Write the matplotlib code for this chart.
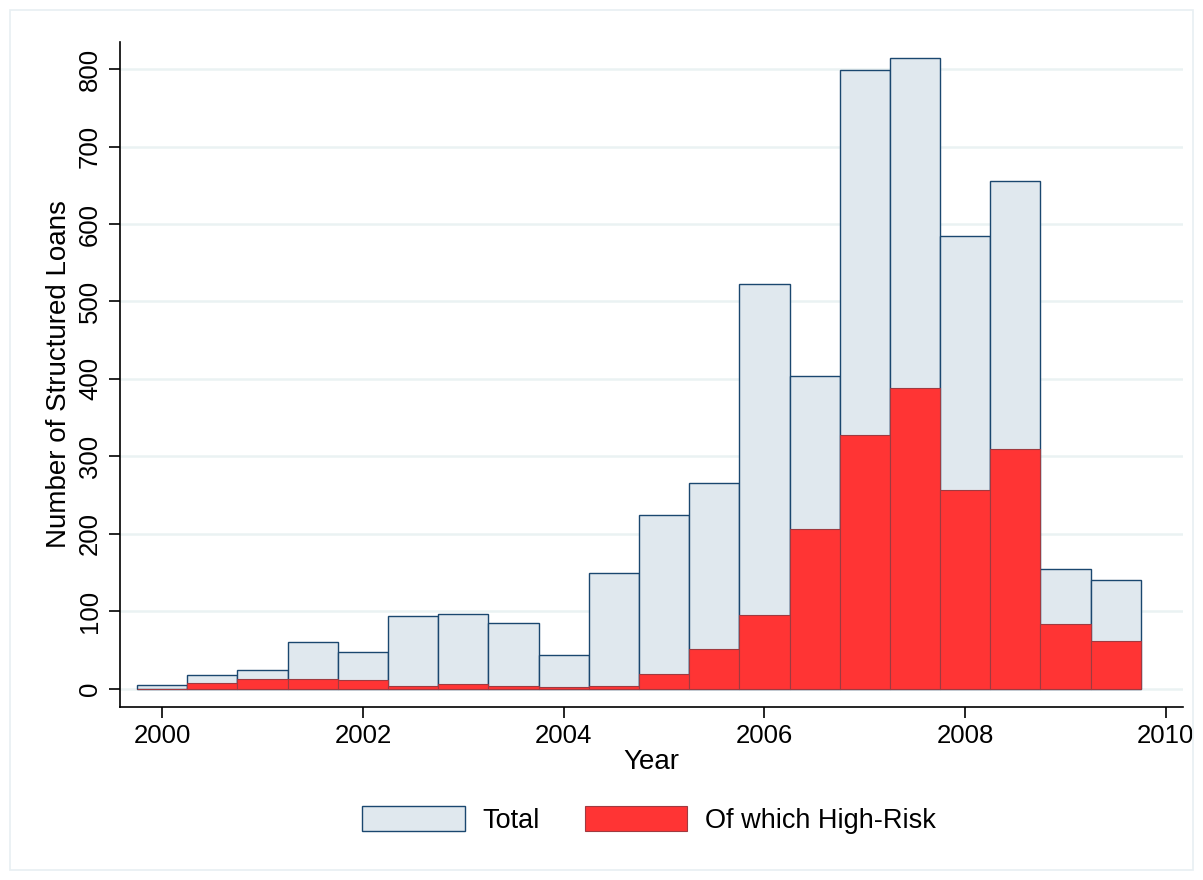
import matplotlib
matplotlib.use("Agg")
import matplotlib.pyplot as plt
from matplotlib.patches import Rectangle

plt.rcParams['font.family'] = ['Liberation Sans', 'DejaVu Sans']

# Half-year bins (bin centres)
periods = [2000.0, 2000.5, 2001.0, 2001.5, 2002.0, 2002.5, 2003.0, 2003.5,
           2004.0, 2004.5, 2005.0, 2005.5, 2006.0, 2006.5, 2007.0, 2007.5,
           2008.0, 2008.5, 2009.0, 2009.5]
total = [5, 18, 24, 60, 47, 94, 96, 85, 44, 150, 224, 266, 522, 404, 799, 814,
         584, 656, 155, 140]
high_risk = [0, 7, 13, 12, 11, 4, 6, 3, 2, 3, 19, 51, 95, 206, 328, 388, 257,
             309, 84, 61]
xticks = [2000, 2002, 2004, 2006, 2008, 2010]
yticks = [0, 100, 200, 300, 400, 500, 600, 700, 800]

W, H = 1203, 880
fig = plt.figure(figsize=(W / 100, H / 100), dpi=100)
fig.patch.set_facecolor('white')
fig.patches.append(Rectangle((10 / W, 10 / H), 1 - 20 / W, 1 - 20 / H,
                             transform=fig.transFigure, fill=False,
                             edgecolor='#e8eff2', linewidth=1.2))

ax = fig.add_axes([120 / W, 1 - 707 / H, (1183 - 120) / W, (707 - 42) / H])
ax.set_facecolor('white')

ax.bar(periods, total, width=0.5, color='#e0e8ee', edgecolor='#1a476f',
       linewidth=1.0, label='Total', zorder=2)
ax.bar(periods, high_risk, width=0.5, color='#ff3434', edgecolor='#a03a40',
       linewidth=0.8, label='Of which High-Risk', zorder=3)

ax.set_xlim(1999.58, 2010.17)
ax.set_ylim(-23.6, 835)
ax.set_xticks(xticks)
ax.set_yticks(yticks)
ax.set_yticklabels([str(v) for v in yticks], rotation=90, va='center')
ax.tick_params(axis='both', labelsize=18.5, length=8, width=1.2, color='black')
ax.tick_params(axis='y', pad=5)
ax.tick_params(axis='x', pad=4)
ax.grid(axis='y', color='#eaf2f3', linewidth=1.8, zorder=0)
ax.set_axisbelow(True)
for s in ['top', 'right']:
    ax.spines[s].set_visible(False)
for s in ['left', 'bottom']:
    ax.spines[s].set_linewidth(1.2)

ax.set_xlabel('Year', fontsize=20, labelpad=1)
ax.set_ylabel('Number of Structured Loans', fontsize=20, labelpad=4)

fig.legend(loc='center', bbox_to_anchor=(649 / W, 1 - 820 / H), ncol=2,
           frameon=False, fontsize=19.5, handlelength=3.77, handleheight=1.03,
           columnspacing=1.66, handletextpad=0.66)

fig.savefig('out.png', dpi=100, facecolor='white')
